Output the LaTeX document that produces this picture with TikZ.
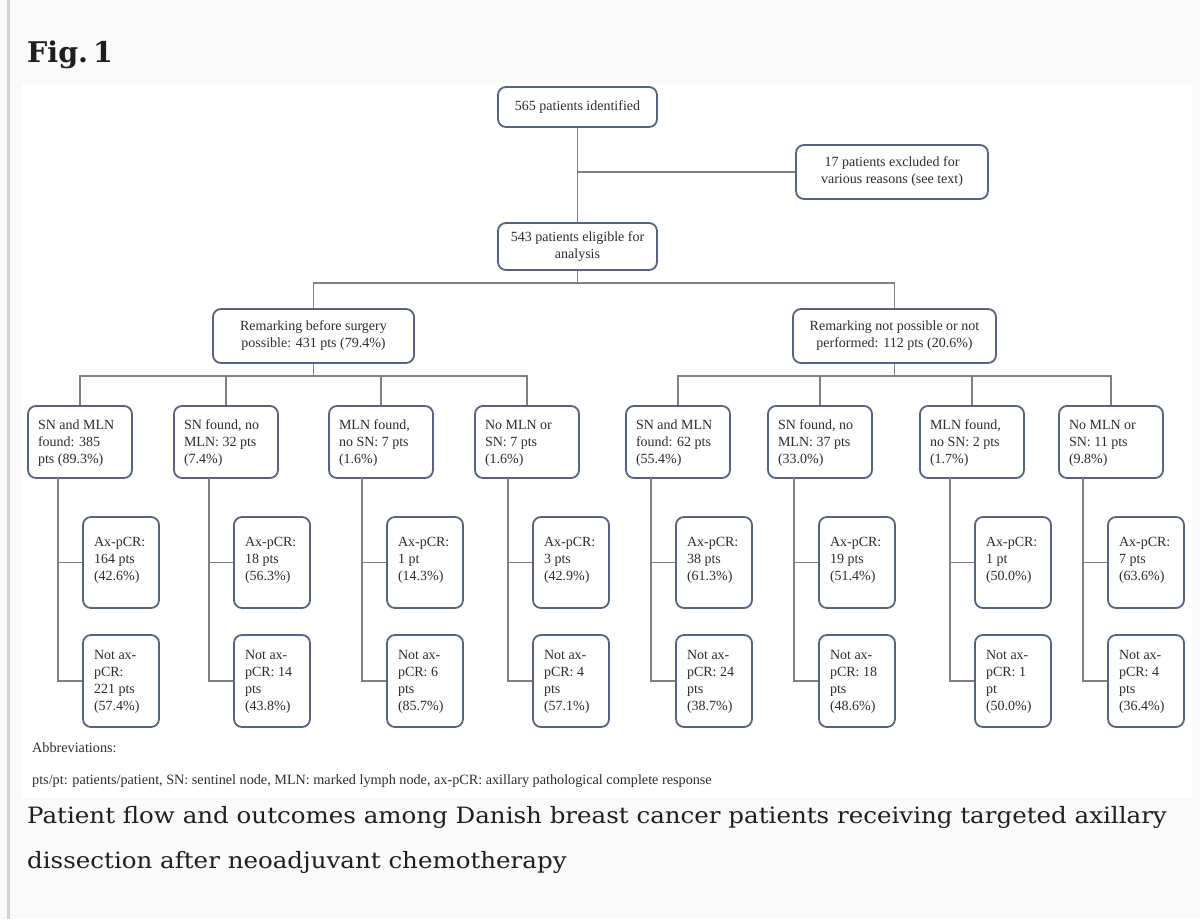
\documentclass[tikz,border=0pt]{standalone}
\usepackage{fontspec}
\setmainfont{Liberation Serif}
\newfontfamily\capfont[FakeStretch=1.09]{DejaVu Serif}
\newfontfamily\figfont{DejaVu Serif}
\usetikzlibrary{calc}
\definecolor{pagebg}{RGB}{250,250,250}
\definecolor{barc}{RGB}{210,210,210}
\definecolor{linec}{RGB}{128,128,128}
\definecolor{boxc}{RGB}{85,100,130}
\definecolor{txtc}{RGB}{45,45,45}
\definecolor{capc}{RGB}{30,30,30}
\newcommand\lbox[4]{\parbox[c][#1][t]{#2}{\raggedright\vspace*{#3}#4}}
\begin{document}
\begin{tikzpicture}[x=1pt,y=-1pt,
  box/.style={draw=boxc, line width=1.8pt, rounded corners=8pt, fill=white, text=txtc,
    font=\fontsize{14}{17}\selectfont, inner ysep=0pt},
  ctr/.style={box, align=center, inner xsep=0pt},
  lvl/.style={box, inner xsep=10pt},
  axb/.style={box, inner xsep=11pt},
  conn/.style={draw=linec, line width=1.9pt},
  abbr/.style={text=txtc, font=\fontsize{14.2}{16}\selectfont, inner sep=0pt, anchor=base west},
  captxt/.style={text=capc, font=\capfont\fontsize{22.5}{27}\selectfont, inner sep=0pt, anchor=base west}
]
\useasboundingbox (0,0) rectangle (1200,919);
\fill[pagebg] (0,0) rectangle (1200,919);
\fill[barc] (7,0) rectangle (10,919);
\fill[white] (22,84) rectangle (1192,797);

\node[text=capc, font=\figfont\bfseries\fontsize{28.5}{32}\selectfont, inner sep=0pt, anchor=base west] (fig) at (27,62) {Fig.\kern0.18em1};

% top levels
\node[ctr, minimum width=159pt, minimum height=40pt] (a) at (577.5,107) {565 patients identified};
\node[ctr, minimum width=192pt, minimum height=54pt] (ex) at (892,172) {17 patients excluded for\\various reasons (see text)};
\node[ctr, minimum width=159pt, minimum height=47pt] (b) at (577.5,246.5) {543 patients eligible for\\analysis};
\node[ctr, minimum width=201pt, minimum height=54pt] (rl) at (313.5,336) {Remarking before surgery\\possible: 431 pts (79.4\%)};
\node[ctr, minimum width=203pt, minimum height=54pt] (rr) at (894.5,336) {Remarking not possible or not\\performed: 112 pts (20.6\%)};

% level 3
\node[lvl] (c1) at (80,442)   {\lbox{72pt}{84pt}{14pt}{SN and MLN\\found: 385\\pts (89.3\%)}};
\node[lvl] (c2) at (226,442)  {\lbox{72pt}{84pt}{14pt}{SN found, no\\MLN: 32 pts\\(7.4\%)}};
\node[lvl] (c3) at (381,442)  {\lbox{72pt}{84pt}{14pt}{MLN found,\\no SN: 7 pts\\(1.6\%)}};
\node[lvl] (c4) at (527,442)  {\lbox{72pt}{84pt}{14pt}{No MLN or\\SN: 7 pts\\(1.6\%)}};
\node[lvl] (c5) at (678,442)  {\lbox{72pt}{84pt}{14pt}{SN and MLN\\found: 62 pts\\(55.4\%)}};
\node[lvl] (c6) at (820,442)  {\lbox{72pt}{84pt}{14pt}{SN found, no\\MLN: 37 pts\\(33.0\%)}};
\node[lvl] (c7) at (972,442)  {\lbox{72pt}{84pt}{14pt}{MLN found,\\no SN: 2 pts\\(1.7\%)}};
\node[lvl] (c8) at (1111,442) {\lbox{72pt}{84pt}{14pt}{No MLN or\\SN: 11 pts\\(9.8\%)}};

% ax-pCR boxes
\node[axb] (p1) at (121,562.5)  {\lbox{91pt}{54pt}{20pt}{Ax-pCR:\\164 pts\\(42.6\%)}};
\node[axb] (p2) at (272,562.5)  {\lbox{91pt}{54pt}{20pt}{Ax-pCR:\\18 pts\\(56.3\%)}};
\node[axb] (p3) at (425,562.5)  {\lbox{91pt}{54pt}{20pt}{Ax-pCR:\\1 pt\\(14.3\%)}};
\node[axb] (p4) at (571,562.5)  {\lbox{91pt}{54pt}{20pt}{Ax-pCR:\\3 pts\\(42.9\%)}};
\node[axb] (p5) at (714,562.5)  {\lbox{91pt}{54pt}{20pt}{Ax-pCR:\\38 pts\\(61.3\%)}};
\node[axb] (p6) at (857,562.5)  {\lbox{91pt}{54pt}{20pt}{Ax-pCR:\\19 pts\\(51.4\%)}};
\node[axb] (p7) at (1013,562.5) {\lbox{91pt}{54pt}{20pt}{Ax-pCR:\\1 pt\\(50.0\%)}};
\node[axb] (p8) at (1146,562.5) {\lbox{91pt}{54pt}{20pt}{Ax-pCR:\\7 pts\\(63.6\%)}};

% not ax-pCR boxes
\node[axb] (q1) at (121,681)  {\lbox{92pt}{54pt}{15pt}{Not ax-\\pCR:\\221 pts\\(57.4\%)}};
\node[axb] (q2) at (272,681)  {\lbox{92pt}{54pt}{15pt}{Not ax-\\pCR: 14\\pts\\(43.8\%)}};
\node[axb] (q3) at (425,681)  {\lbox{92pt}{54pt}{15pt}{Not ax-\\pCR: 6\\pts\\(85.7\%)}};
\node[axb] (q4) at (571,681)  {\lbox{92pt}{54pt}{15pt}{Not ax-\\pCR: 4\\pts\\(57.1\%)}};
\node[axb] (q5) at (714,681)  {\lbox{92pt}{54pt}{15pt}{Not ax-\\pCR: 24\\pts\\(38.7\%)}};
\node[axb] (q6) at (857,681)  {\lbox{92pt}{54pt}{15pt}{Not ax-\\pCR: 18\\pts\\(48.6\%)}};
\node[axb] (q7) at (1013,681) {\lbox{92pt}{54pt}{15pt}{Not ax-\\pCR: 1\\pt\\(50.0\%)}};
\node[axb] (q8) at (1146,681) {\lbox{92pt}{54pt}{15pt}{Not ax-\\pCR: 4\\pts\\(36.4\%)}};

% connectors
\coordinate (j1) at (577.5,283);
\coordinate (jl) at (313.5,376);
\coordinate (jr) at (894.5,376);
\draw[conn] (a.south) -- (b.north);
\draw[conn] (a.south |- ex.west) -- (ex.west);
\draw[conn] (b.south) -- (j1);
\draw[conn] (rl.north) |- (j1) -| (rr.north);
\draw[conn] (rl.south) -- (jl);
\draw[conn] (rr.south) -- (jr);
\draw[conn] (c1.north) |- (jl) -| (c4.north);
\draw[conn] (c2.north) -- (c2.north |- jl);
\draw[conn] (c3.north) -- (c3.north |- jl);
\draw[conn] (c5.north) |- (jr) -| (c8.north);
\draw[conn] (c6.north) -- (c6.north |- jr);
\draw[conn] (c7.north) -- (c7.north |- jr);
\foreach \i/\sx in {1/58,2/209,3/362,4/508,5/651,6/794,7/950,8/1083}{
  \coordinate (s\i) at (\sx,478);
  \draw[conn] (s\i) |- (q\i.west);
  \draw[conn] (s\i |- p\i.west) -- (p\i.west);
}

% abbreviations
\node[abbr] (ab1) at (32,752) {Abbreviations:};
\node[abbr] (ab2) at (32,784) {pts/pt: patients/patient, SN: sentinel node, MLN: marked lymph node, ax-pCR: axillary pathological complete response};

% caption
\node[captxt] (cp1) at (27,823) {Patient flow and outcomes among Danish breast cancer patients receiving targeted axillary};
\node[captxt] (cp2) at (27,868) {dissection after neoadjuvant chemotherapy};
\end{tikzpicture}
\end{document}
